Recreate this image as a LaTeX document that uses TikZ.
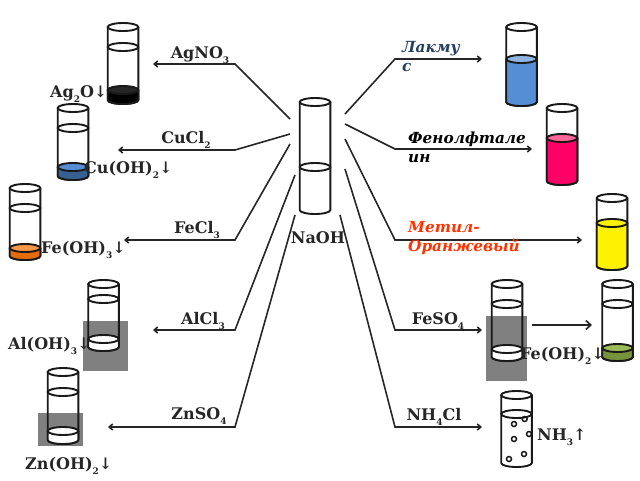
\documentclass[tikz,border=0pt]{standalone}
\usepackage{fontspec}
\setmainfont{DejaVu Serif}
\usetikzlibrary{arrows.meta}
\newcommand\sbs[1]{\raisebox{-0.3em}{\fontsize{9}{9}\selectfont #1}}
% #1 cx, #2 top y, #3 bottom y
\newcommand\glass[3]{%
  \draw[tubeline] (#1-15.3,#2) -- (#1-15.3,#3-4) arc[start angle=180,end angle=360,x radius=15.3pt,y radius=4pt] -- (#1+15.3,#2);
  \draw[tubeline,fill=white] (#1,#2) ellipse[x radius=15.3pt,y radius=4pt];
}
% #1 cx, #2 level y, #3 bottom y, #4 body fill, #5 top fill
\newcommand\liquid[5]{%
  \draw[tubeline,fill=#4] (#1-15.3,#2) -- (#1-15.3,#3-4) arc[start angle=180,end angle=360,x radius=15.3pt,y radius=4pt] -- (#1+15.3,#2);
  \draw[tubeline,fill=#5] (#1,#2) ellipse[x radius=15.3pt,y radius=4pt];
}
\newcommand\level[2]{\draw[tubeline] (#1,#2) ellipse[x radius=15.3pt,y radius=4pt];}
\tikzset{
  tubeline/.style={line width=1.9pt,draw=black!90},
  conn/.style={line width=1.6pt,draw=black!85,-{Straight Barb[length=3.5pt,width=6pt]}},
  lbl/.style={font=\bfseries\fontsize{16}{17}\selectfont,text=black!85,inner sep=0pt},
  ital/.style={font=\bfseries\itshape\fontsize{15.3}{19}\selectfont,inner sep=0pt,align=left,anchor=west,text width=130pt},
  graybox/.style={fill=gray,draw=none},
  bubble/.style={line width=1.5pt,draw=black!90}
}
\definecolor{litmus}{HTML}{558ED5}
\definecolor{litmustop}{HTML}{8EB4E3}
\definecolor{phenol}{HTML}{FF0066}
\definecolor{phenoltop}{HTML}{FF6699}
\definecolor{cuoh}{HTML}{376092}
\definecolor{cuohtop}{HTML}{558ED5}
\definecolor{feoh}{HTML}{E46C0A}
\definecolor{feohtop}{HTML}{F79646}
\definecolor{fegreen}{HTML}{77933C}
\definecolor{fegreentop}{HTML}{9BBB59}
\definecolor{lakmus}{HTML}{254061}
\definecolor{metil}{HTML}{FF3300}
\begin{document}
\begin{tikzpicture}[x=1pt,y=-1pt]
\useasboundingbox (0,0) rectangle (640,480);
% grey squares
\fill[graybox] (83,321) rectangle (128,371);
\fill[graybox] (38,413) rectangle (83,446);
\fill[graybox] (486,316) rectangle (527,381);
% left tubes
\glass{123}{27}{104}\level{123}{47}\liquid{123}{90}{104}{black}{black!85}
\glass{73}{108}{180}\level{73}{128}\liquid{73}{167}{180}{cuoh}{cuohtop}
\glass{25}{188}{260}\level{25}{208}\liquid{25}{248}{260}{feoh}{feohtop}
\glass{103.5}{284}{351}\level{103.5}{299}\liquid{103.5}{339}{351}{white}{white}
\glass{63}{372}{444}\level{63}{392}\liquid{63}{431}{444}{white}{white}
% centre tube
\glass{315}{102}{214}\level{315}{167}
% right tubes
\glass{521.5}{27}{106}\liquid{521.5}{59}{106}{litmus}{litmustop}
\glass{562}{108}{185}\liquid{562}{138}{185}{phenol}{phenoltop}
\glass{612}{198}{270}\liquid{612}{223}{270}{yellow}{yellow}
\glass{507}{284}{361}\level{507}{304}\liquid{507}{349}{361}{white}{white}
\glass{617.5}{284}{361}\level{617.5}{304}\liquid{617.5}{348}{361}{fegreen}{fegreentop}
\glass{516.5}{395}{467}\level{516.5}{414}
\foreach \bx/\by in {514/424,524.7/419,514/439,529/434,524/454,509/459}
  \draw[bubble] (\bx,\by) circle[radius=2.5pt];
% connector points
\coordinate (sa) at (290,119); \coordinate (ma) at (235,64);  \coordinate (ea) at (153,64);
\coordinate (sb) at (290,134); \coordinate (mb) at (235,150); \coordinate (eb) at (118,150);
\coordinate (sc) at (290,144); \coordinate (mc) at (235,240); \coordinate (ec) at (124,240);
\coordinate (sd) at (295,175); \coordinate (md) at (235,330); \coordinate (ed) at (153,330);
\coordinate (se) at (295,215); \coordinate (me) at (235,427); \coordinate (ee) at (108,427);
\coordinate (sf) at (345,114); \coordinate (mf) at (395,59);  \coordinate (ef) at (482,59);
\coordinate (sg) at (345,124); \coordinate (mg) at (395,149); \coordinate (eg) at (532,149);
\coordinate (sh) at (345,139); \coordinate (mh) at (395,240); \coordinate (eh) at (582,240);
\coordinate (si) at (345,169); \coordinate (mi) at (395,330); \coordinate (ei) at (482,330);
\coordinate (sj) at (340,215); \coordinate (mj) at (395,427); \coordinate (ej) at (482,427);
\coordinate (sk) at (532,325); \coordinate (ek) at (592,325);
\foreach \n in {a,b,c,d,e,f,g,h,i,j}
  \draw[conn] (s\n) -- (m\n) -- (e\n);
\draw[conn,-{Straight Barb[length=5pt,width=9pt]}] (sk) -- (ek);
% labels
\node[lbl] (agno) at (200,55) {AgNO\sbs{3}};
\node[lbl,anchor=west] (agO) at (50,94) {Ag\sbs{2}O↓};
\node[lbl] (cucl) at (186,140) {CuCl\sbs{2}};
\node[lbl,anchor=west] (cuoh) at (84,170) {Cu(OH)\sbs{2}↓};
\node[lbl] (fecl) at (197,230) {FeCl\sbs{3}};
\node[lbl,anchor=west] (feoht) at (41,250) {Fe(OH)\sbs{3}↓};
\node[lbl] (alcl) at (203,321) {AlCl\sbs{3}};
\node[lbl,anchor=west] (aloh) at (8,346) {Al(OH)\sbs{3}↓};
\node[lbl] (znso) at (199,416) {ZnSO\sbs{4}};
\node[lbl,anchor=west] (znoh) at (25,466) {Zn(OH)\sbs{2}↓};
\node[lbl] (naoh) at (318,238) {NaOH};
\node[lbl] (feso) at (438,321) {FeSO\sbs{4}};
\node[lbl,anchor=west] (feohd) at (520,356) {Fe(OH)\sbs{2}↓};
\node[lbl] (nhcl) at (434,417) {NH\sbs{4}Cl};
\node[lbl,anchor=west] (nhg) at (537,437) {NH\sbs{3}↑};
\node[ital,text=lakmus] (lak) at (402,57) {Лакму\\с};
\node[ital,text=black] (fen) at (408,147) {Фенолфтале\\ин};
\node[ital,text=metil] (met) at (408,238) {Метил-\\Оранжевый};
\end{tikzpicture}
\end{document}
